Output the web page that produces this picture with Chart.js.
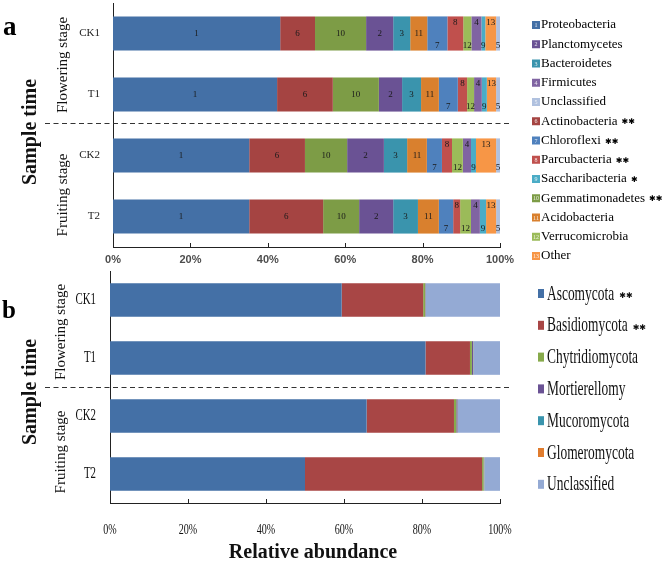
<!DOCTYPE html>
<html>
<head>
<meta charset="utf-8">
<script src="https://cdn.jsdelivr.net/npm/chart.js@4.4.1/dist/chart.umd.min.js"></script>
<style>
  html, body { margin: 0; padding: 0; background: #fff; }
  #wrap { position: relative; width: 667px; height: 561px; }
  #box-a { position: absolute; left: 0; top: 0; width: 667px; height: 270px; }
  #box-b { position: absolute; left: 0; top: 270px; width: 667px; height: 291px; }
</style>
</head>
<body>
<div id="wrap">
  <div id="box-a"><canvas id="chart-a"></canvas></div>
  <div id="box-b"><canvas id="chart-b"></canvas></div>
</div>
<script>
// === DATA ===
const samples = ['CK1', 'T1', 'CK2', 'T2'];
const xTickValues = [0, 20, 40, 60, 80, 100];

// Panel a: bacteria phyla (legend order, numbered 1..13)
const bacteriaNames = ['Proteobacteria', 'Planctomycetes', 'Bacteroidetes', 'Firmicutes', 'Unclassified',
  'Actinobacteria', 'Chloroflexi', 'Parcubacteria', 'Saccharibacteria', 'Gemmatimonadetes',
  'Acidobacteria', 'Verrucomicrobia', 'Other'];
const bacteriaStars = ['', '', '', '', '', '**', '**', '**', '*', '**', '', '', ''];
const proteobacteria   = [43.2, 42.4, 35.2, 35.2];
const planctomycetes   = [7.0, 6.0, 9.5, 8.8];
const bacteroidetes    = [4.4, 4.9, 6.0, 6.4];
const firmicutes       = [2.6, 2.0, 2.1, 2.3];
const unclassifiedA    = [1.0, 1.0, 1.0, 1.0];
const actinobacteria   = [9.0, 14.4, 14.4, 19.1];
const chloroflexi      = [5.2, 4.9, 3.9, 3.7];
const parcubacteria    = [4.1, 2.4, 2.6, 1.8];
const saccharibacteria = [1.0, 1.3, 1.3, 1.6];
const gemmatimonadetes = [13.2, 11.9, 10.9, 9.3];
const acidobacteria    = [4.4, 4.6, 5.1, 5.4];
const verrucomicrobia  = [2.1, 1.8, 2.8, 2.8];
const otherA           = [2.8, 2.4, 5.2, 2.6];
const bacteriaValues = [proteobacteria, planctomycetes, bacteroidetes, firmicutes, unclassifiedA,
  actinobacteria, chloroflexi, parcubacteria, saccharibacteria, gemmatimonadetes,
  acidobacteria, verrucomicrobia, otherA];
const bacteriaStackOrder = [1, 6, 10, 2, 3, 11, 7, 8, 12, 4, 9, 13, 5];

// Panel b: fungi phyla
const fungiNames = ['Ascomycota', 'Basidiomycota', 'Chytridiomycota', 'Mortierellomy',
  'Mucoromycota', 'Glomeromycota', 'Unclassified'];
const fungiStars = ['**', '**', '', '', '', '', ''];
const ascomycota      = [59.4, 80.9, 65.8, 50.0];
const basidiomycota   = [20.9, 11.4, 22.4, 45.4];
const chytridiomycota = [0.5, 0.5, 0.6, 0.4];
const mortierellomy   = [0.1, 0.3, 0.3, 0.1];
const mucoromycota    = [0.05, 0.05, 0.05, 0.05];
const glomeromycota   = [0.05, 0.05, 0.05, 0.05];
const unclassifiedB   = [19.0, 6.8, 10.8, 4.0];
const fungiValues = [ascomycota, basidiomycota, chytridiomycota, mortierellomy,
  mucoromycota, glomeromycota, unclassifiedB];

// === STYLE ===
const bacteriaColors = ['#4470a6', '#6a5294', '#3a94ad', '#8064a2', '#b0c1df',
  '#a54442', '#4f81bd', '#c0504d', '#4bacc6', '#7d9c46', '#d9802e', '#9bbb59', '#f79646'];
const fungiColors = ['#4470a6', '#a84645', '#87aa4b', '#6a5294', '#3a94ad', '#e07c2e', '#94aad4'];
const labelPlaceA = { 7: 'bottom', 8: 'top', 12: 'bottom', 4: 'top', 9: 'bottom', 13: 'top', 5: 'bottom' };
const SERIF = '"Liberation Serif", "Times New Roman", serif';

function starGlyphs(s) { return s ? '\u2731'.repeat(s.length) : ''; }

function rotText(ctx, text, x, y, font) {
  ctx.save();
  ctx.translate(x, y);
  ctx.rotate(-Math.PI / 2);
  ctx.font = font;
  ctx.textAlign = 'center';
  ctx.textBaseline = 'middle';
  ctx.fillText(text, 0, 0);
  ctx.restore();
}

function condText(ctx, text, x, y, font, sx, align) {
  ctx.save();
  ctx.translate(x, y);
  ctx.scale(sx, 1);
  ctx.font = font;
  ctx.textAlign = align;
  ctx.textBaseline = 'middle';
  ctx.fillText(text, 0, 0);
  ctx.restore();
}

function dashedLine(ctx, x1, x2, y) {
  ctx.save();
  ctx.strokeStyle = '#333';
  ctx.lineWidth = 1.2;
  ctx.setLineDash([5, 3.5]);
  ctx.beginPath();
  ctx.moveTo(x1, y); ctx.lineTo(x2, y);
  ctx.stroke();
  ctx.restore();
}

function inwardTicks(ctx, chart) {
  const xs = chart.scales.x;
  const bottom = chart.chartArea.bottom;
  ctx.save();
  ctx.strokeStyle = '#222';
  ctx.lineWidth = 1;
  xTickValues.forEach(v => {
    if (v === 0) return;
    const px = Math.round(xs.getPixelForValue(v)) + 0.5;
    ctx.beginPath(); ctx.moveTo(px, bottom - 4); ctx.lineTo(px, bottom); ctx.stroke();
  });
  ctx.restore();
}

const axisX = (height) => ({
  stacked: true, min: 0, max: 100,
  grid: { display: false, drawTicks: false },
  border: { display: true, color: '#222', width: 1 },
  ticks: { display: false, stepSize: 20 },
  afterFit: s => { s.height = height; }
});
const axisY = (width) => ({
  stacked: true,
  grid: { display: false, drawTicks: false },
  border: { display: true, color: '#222', width: 1 },
  ticks: { display: false },
  afterFit: s => { s.width = width; }
});

// === PANEL A ===
const decorA = {
  id: 'decorA',
  afterDatasetsDraw(chart) {
    const ctx = chart.ctx;
    // numbers inside segments
    ctx.save();
    ctx.fillStyle = '#1a1a1a';
    ctx.font = '9px ' + SERIF;
    ctx.textAlign = 'center';
    ctx.textBaseline = 'middle';
    chart.data.datasets.forEach((ds, di) => {
      const meta = chart.getDatasetMeta(di);
      const place = labelPlaceA[ds.num] || 'center';
      meta.data.forEach(bar => {
        const p = bar.getProps(['x', 'y', 'base', 'height'], true);
        const cx = (p.x + p.base) / 2;
        let cy = p.y;
        if (place === 'top') cy = p.y - p.height / 2 + 6;
        if (place === 'bottom') cy = p.y + p.height / 2 - 5;
        ctx.fillText(String(ds.num), cx, cy);
      });
    });
    ctx.restore();
  },
  afterDraw(chart) {
    const ctx = chart.ctx;
    const xs = chart.scales.x, ys = chart.scales.y;
    inwardTicks(ctx, chart);
    dashedLine(ctx, 45, 512, 123.5);

    ctx.save();
    // axis labels
    ctx.fillStyle = '#222';
    ctx.font = '11px ' + SERIF;
    ctx.textAlign = 'right';
    ctx.textBaseline = 'middle';
    samples.forEach((s, i) => ctx.fillText(s, 100, ys.getPixelForValue(i)));
    ctx.fillStyle = '#4d4d4d';
    ctx.font = 'bold 11px "Liberation Sans", Arial, sans-serif';
    ctx.textAlign = 'center';
    xTickValues.forEach(v => ctx.fillText(v + '%', xs.getPixelForValue(v), 260));

    ctx.fillStyle = '#000';
    ctx.font = 'bold 27px ' + SERIF;
    ctx.textAlign = 'left';
    ctx.textBaseline = 'alphabetic';
    ctx.fillText('a', 3, 35);
    ctx.fillStyle = '#111';
    rotText(ctx, 'Sample time', 31, 132, 'bold 20px ' + SERIF);
    rotText(ctx, 'Flowering stage', 63, 65, '15px ' + SERIF);
    rotText(ctx, 'Fruiting stage', 63, 195, '15px ' + SERIF);

    // legend
    bacteriaNames.forEach((name, i) => {
      const y = 25 + i * 19.25;
      ctx.fillStyle = bacteriaColors[i];
      ctx.fillRect(532, y - 4, 8, 8);
      ctx.fillStyle = 'rgba(255,255,255,0.85)';
      ctx.font = '6px ' + SERIF;
      ctx.textAlign = 'center';
      ctx.textBaseline = 'middle';
      ctx.fillText(String(i + 1), 536, y + 0.5);
      ctx.fillStyle = '#000';
      ctx.font = '13px ' + SERIF;
      ctx.textAlign = 'left';
      ctx.fillText(name, 541, y);
      const stars = starGlyphs(bacteriaStars[i]);
      if (stars) {
        const w = ctx.measureText(name).width;
        ctx.font = '8px "DejaVu Sans", sans-serif';
        ctx.fillText(stars, 541 + w + 4, y + 1);
      }
    });
    ctx.restore();
  }
};

const datasetsA = bacteriaStackOrder.map(num => ({
  label: bacteriaNames[num - 1],
  num,
  data: bacteriaValues[num - 1],
  backgroundColor: bacteriaColors[num - 1],
  borderWidth: 0,
  barPercentage: 0.56,
  categoryPercentage: 1
}));

new Chart(document.getElementById('chart-a'), {
  type: 'bar',
  data: { labels: samples, datasets: datasetsA },
  options: {
    indexAxis: 'y',
    responsive: true,
    maintainAspectRatio: false,
    animation: false,
    layout: { padding: { top: 3, right: 167, left: 0, bottom: 0 } },
    plugins: { legend: { display: false }, tooltip: { enabled: false } },
    scales: { x: axisX(23), y: axisY(113) }
  },
  plugins: [decorA]
});

// === PANEL B ===
const decorB = {
  id: 'decorB',
  afterDraw(chart) {
    const ctx = chart.ctx;
    const xs = chart.scales.x, ys = chart.scales.y;
    inwardTicks(ctx, chart);
    dashedLine(ctx, 45, 512, 117.5);

    ctx.save();
    ctx.fillStyle = '#111';
    // condensed category and tick labels
    samples.forEach((s, i) => {
      condText(ctx, s, 96, ys.getPixelForValue(i), '16px ' + SERIF, 0.68, 'right');
    });
    xTickValues.forEach(v => {
      condText(ctx, v + '%', xs.getPixelForValue(v), 260, '14px ' + SERIF, 0.72, 'center');
    });

    ctx.fillStyle = '#000';
    ctx.font = 'bold 25px ' + SERIF;
    ctx.textAlign = 'left';
    ctx.textBaseline = 'alphabetic';
    ctx.fillText('b', 2, 48);
    ctx.fillStyle = '#111';
    rotText(ctx, 'Sample time', 31, 122, 'bold 20px ' + SERIF);
    rotText(ctx, 'Flowering stage', 61, 62, '15px ' + SERIF);
    rotText(ctx, 'Fruiting stage', 61, 182, '15px ' + SERIF);

    ctx.font = 'bold 20px ' + SERIF;
    ctx.textAlign = 'center';
    ctx.textBaseline = 'middle';
    ctx.fillText('Relative abundance', 313, 283);

    // legend
    fungiNames.forEach((name, i) => {
      const y = 24 + i * 31.8;
      ctx.fillStyle = fungiColors[i];
      ctx.fillRect(538, y - 5, 6, 9);
      ctx.fillStyle = '#111';
      condText(ctx, name, 547, y, '21px ' + SERIF, 0.64, 'left');
      const stars = starGlyphs(fungiStars[i]);
      if (stars) {
        ctx.font = '21px ' + SERIF;
        const w = ctx.measureText(name).width * 0.64;
        ctx.font = '8px "DejaVu Sans", sans-serif';
        ctx.textAlign = 'left';
        ctx.textBaseline = 'middle';
        ctx.fillText(stars, 547 + w + 5, y + 2);
      }
    });
    ctx.restore();
  }
};

const datasetsB = fungiNames.map((name, i) => ({
  label: name,
  data: fungiValues[i],
  backgroundColor: fungiColors[i],
  borderWidth: 0,
  barPercentage: 0.58,
  categoryPercentage: 1
}));

new Chart(document.getElementById('chart-b'), {
  type: 'bar',
  data: { labels: samples, datasets: datasetsB },
  options: {
    indexAxis: 'y',
    responsive: true,
    maintainAspectRatio: false,
    animation: false,
    layout: { padding: { top: 1, right: 167, left: 0, bottom: 0 } },
    plugins: { legend: { display: false }, tooltip: { enabled: false } },
    scales: { x: axisX(58), y: axisY(110) }
  },
  plugins: [decorB]
});
</script>
</body>
</html>
